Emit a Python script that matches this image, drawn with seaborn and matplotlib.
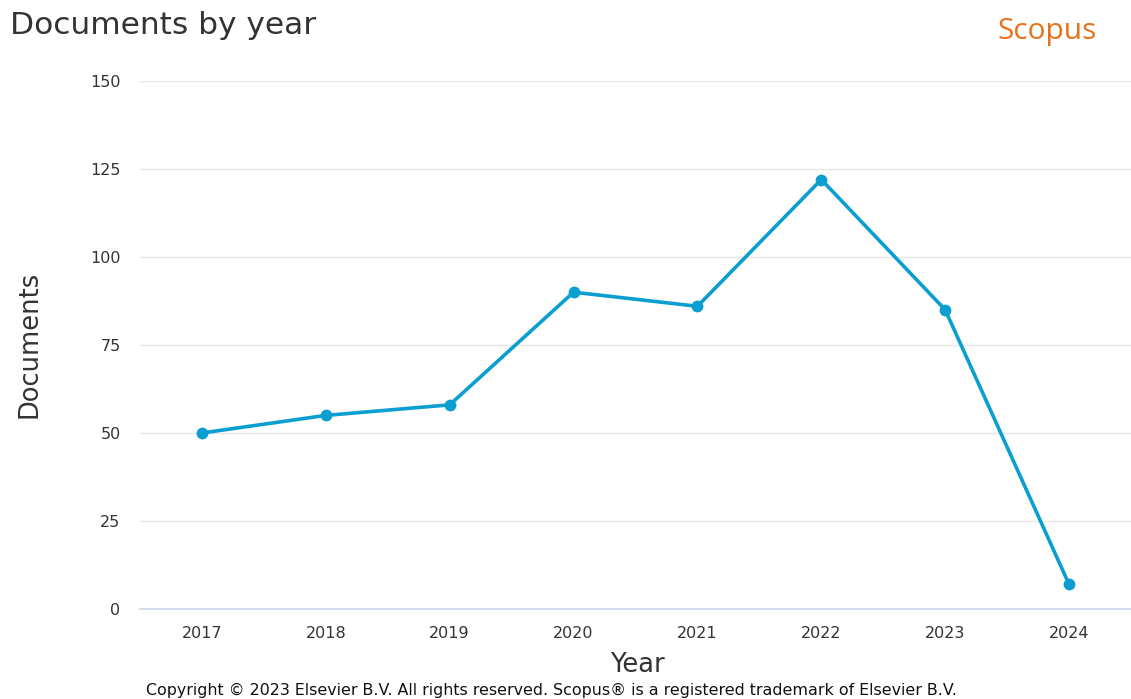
import pandas as pd
import matplotlib.pyplot as plt
import seaborn as sns

# Scopus "Documents by year" values
years = [2017, 2018, 2019, 2020, 2021, 2022, 2023, 2024]
documents = [50, 55, 58, 90, 86, 122, 85, 7]
y_ticks = [0, 25, 50, 75, 100, 125, 150]

df = pd.DataFrame({'Year': years, 'Documents': documents})

sns.set_style("white")
plt.rcParams['font.family'] = ['DejaVu Sans']

fig = plt.figure(figsize=(11.31, 6.99), dpi=100)
ax = fig.add_axes([140 / 1131, 1 - 609 / 699, 991 / 1131, 528 / 699])

sns.lineplot(data=df, x='Year', y='Documents', ax=ax, color='#0b9fd1',
             linewidth=2.6, marker='o', markersize=8.5, markeredgewidth=0)

ax.set_xlim(2016.5, 2024.5)
ax.set_ylim(0, 150)
ax.set_xticks(years)
ax.set_yticks(y_ticks)
ax.tick_params(axis='both', length=0, labelsize=11.5, labelcolor='#333333')
ax.tick_params(axis='y', pad=14)
ax.tick_params(axis='x', pad=12)

ax.grid(axis='y', color='#e6e6e6', linewidth=1)
ax.set_axisbelow(True)
sns.despine(ax=ax, left=True, right=True, top=True, bottom=False)
ax.spines['bottom'].set_color('#ccd6eb')
ax.spines['bottom'].set_linewidth(1.2)

ax.set_xlabel("Year", fontsize=18.5, color='#333333')
ax.set_ylabel("Documents", fontsize=18.5, color='#333333')
ax.xaxis.set_label_coords(0.5015, -0.106)
ax.xaxis.label.set_va('center')
ax.yaxis.set_label_coords(-0.111, 0.502)
ax.yaxis.label.set_va('center')

fig.text(10 / 1131, 1 - 25 / 699, "Documents by year", fontsize=22.5,
         color='#333333', ha='left', va='center')
fig.text(1047 / 1131, 1 - 31 / 699, "Scopus", fontsize=21.5, color='#e9711c',
         ha='center', va='center', family=['Open Sans', 'DejaVu Sans'])
fig.text(551 / 1131, 1 - 690 / 699,
         "Copyright \u00a9 2023 Elsevier B.V. All rights reserved. Scopus\u00ae is a registered trademark of Elsevier B.V.",
         fontsize=11.4, color='#111111', ha='center', va='center')

plt.savefig("out.png", dpi=100)
